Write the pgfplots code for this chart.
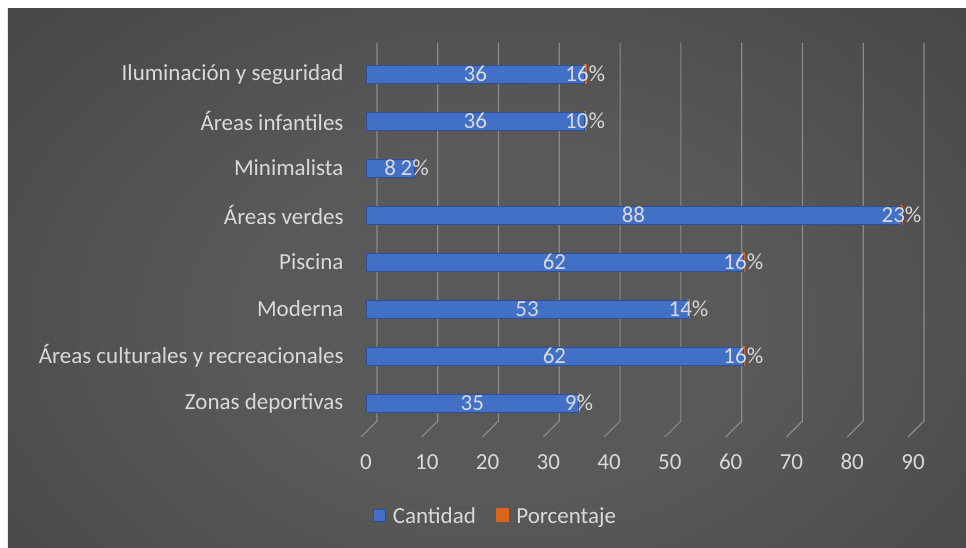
\documentclass[border=0pt]{standalone}
\usepackage{pgfplots}
\pgfplotsset{compat=1.18}
\usepackage{fontspec}
\setmainfont{Carlito}

\definecolor{bgin}{HTML}{595959}
\definecolor{bgout}{HTML}{2A2A2A}
\definecolor{barblue}{HTML}{4170C6}
\definecolor{barbot}{HTML}{2C4F96}
\definecolor{pctorange}{HTML}{D9661C}
\definecolor{gridc}{HTML}{8A8A8A}
\definecolor{labc}{HTML}{D9D9D9}

\pgfdeclareradialshading{bgshade}{\pgfpoint{0bp}{0bp}}{color(0bp)=(bgin); color(10bp)=(bgin); color(50bp)=(bgout); color(100bp)=(bgout)}

\newcommand{\chartfont}{\fontsize{23}{27}\selectfont}

\begin{document}
\begin{tikzpicture}
% page: 1pt ~ 1px, axis box corner at px (366,426.5)
\fill[white] (-366pt,426.5pt) rectangle (600pt,-120.5pt);
\begin{scope}
  \clip (-358pt,417.5pt) rectangle (600pt,-120.5pt);
  \shade[shading=bgshade] (-516pt,556.5pt) rectangle (784pt,-343.5pt);
\end{scope}
% back wall grid with the slanted floor ends
\foreach \v in {0,10,...,90}
  \draw[gridc, line width=1.2pt] (6.0778pt*\v+11pt,383.5pt) -- (6.0778pt*\v+11pt,5.5pt) -- (6.0778pt*\v-5pt,-10.5pt);

\begin{axis}[
  at={(0pt,0pt)}, anchor=south west,
  scale only axis, width=547pt, height=376pt,
  xbar stacked, bar width=18pt,
  xmin=0, xmax=90, ymin=-0.5, ymax=7.5,
  xtick={0,10,...,90},
  ytick={0,...,7},
  yticklabels={Zonas deportivas, Áreas culturales y recreacionales, Moderna, Piscina, Áreas verdes, Minimalista, Áreas infantiles, Iluminación y seguridad},
  axis line style={draw=none},
  major tick length=0pt,
  /pgf/number format/assume math mode=true,
  tick label style={font=\chartfont, text=labc},
  xticklabel style={anchor=center, yshift=-35.5pt},
  yticklabel style={xshift=-19pt},
  clip=false,
  point meta=explicit symbolic,
  nodes near coords,
  every node near coord/.append style={font=\chartfont, text=labc, anchor=center},
  legend style={at={(0.237,-0.238)}, anchor=center, draw=none, fill=none,
    legend columns=-1, font=\chartfont, text=labc,
    /tikz/every odd column/.append style={column sep=5pt},
    /tikz/every even column/.append style={column sep=18pt}},
  legend image code/.code={\fill[#1] (0pt,-5pt) rectangle (12pt,7pt);},
]
\addplot[fill=barblue, draw=barbot, line width=0.6pt]
  coordinates {(35,0)[35] (62,1)[62] (53,2)[53] (62,3)[62] (88,4)[88] (8,5)[8] (36,6)[36] (36,7)[36]};
\addplot[fill=pctorange, draw=pctorange, line width=1.5pt]
  coordinates {(0.09,0)[9\%] (0.16,1)[16\%] (0.14,2)[14\%] (0.16,3)[16\%] (0.23,4)[23\%] (0.02,5)[2\%] (0.10,6)[10\%] (0.16,7)[16\%]};
\legend{Cantidad, Porcentaje}
\end{axis}
\end{tikzpicture}
\end{document}
